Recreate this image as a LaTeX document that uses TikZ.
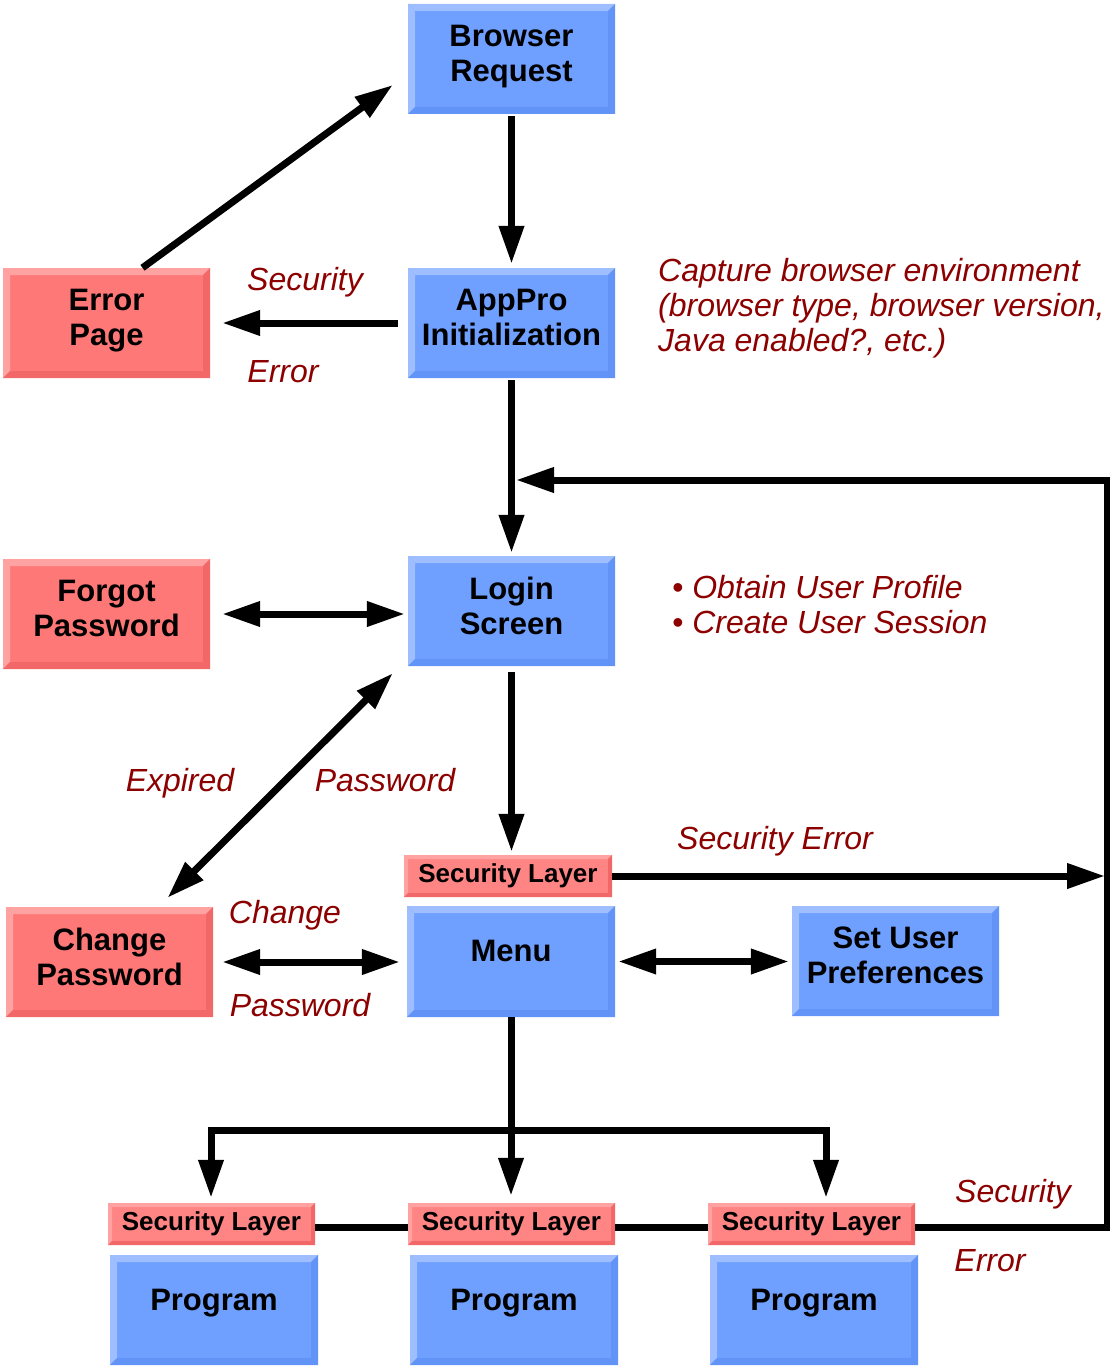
\documentclass[tikz,border=0pt]{standalone}
\usepackage{fontspec}
\setmainfont{Liberation Sans}
\usetikzlibrary{arrows.meta}

\definecolor{boxblue}{RGB}{111,160,255}
\definecolor{boxbluehi}{RGB}{158,190,255}
\definecolor{boxbluelo}{RGB}{98,148,248}
\definecolor{boxred}{RGB}{255,120,120}
\definecolor{boxredhi}{RGB}{255,162,162}
\definecolor{boxredlo}{RGB}{242,104,104}
\definecolor{slred}{RGB}{255,132,132}
\definecolor{lblred}{RGB}{140,0,0}

\newcommand\boxfont{\fontsize{31}{35}\selectfont\bfseries}
\newcommand\secfont{\fontsize{26}{30}\selectfont\bfseries}
\newcommand\lblfont{\fontsize{32}{35}\selectfont\itshape}

\tikzset{
  bevel/.style n args={3}{path picture={
      \fill[#2] (path picture bounding box.north west) -- (path picture bounding box.north east)
        -- ([xshift=-#1,yshift=-#1]path picture bounding box.north east)
        -- ([xshift=#1,yshift=-#1]path picture bounding box.north west) -- cycle;
      \fill[#2] (path picture bounding box.north west) -- (path picture bounding box.south west)
        -- ([xshift=#1,yshift=#1]path picture bounding box.south west)
        -- ([xshift=#1,yshift=-#1]path picture bounding box.north west) -- cycle;
      \fill[#3] (path picture bounding box.north east) -- (path picture bounding box.south east)
        -- ([xshift=-#1,yshift=#1]path picture bounding box.south east)
        -- ([xshift=-#1,yshift=-#1]path picture bounding box.north east) -- cycle;
      \fill[#3] (path picture bounding box.south west) -- (path picture bounding box.south east)
        -- ([xshift=-#1,yshift=#1]path picture bounding box.south east)
        -- ([xshift=#1,yshift=#1]path picture bounding box.south west) -- cycle;
    }},
  bluebox/.style={fill=boxblue, minimum width=207pt, minimum height=110pt, inner sep=0pt,
    align=center, font=\boxfont, text depth=11pt, bevel={7pt}{boxbluehi}{boxbluelo}},
  redbox/.style={bluebox, fill=boxred, bevel={7pt}{boxredhi}{boxredlo}},
  oneline/.style={text depth=21pt},
  secbox/.style={fill=slred, minimum width=207pt, minimum height=42pt, inner sep=0pt,
    font=\secfont, bevel={4pt}{boxredhi}{boxredlo}},
  lbl/.style={text=lblred, font=\lblfont, inner sep=0pt},
  line/.style={line width=7pt},
  arr/.style={line, -{Triangle[length=38pt,width=24pt]}},
  darr/.style={line, {Triangle[length=38pt,width=24pt]}-{Triangle[length=38pt,width=24pt]}}
}

\begin{document}
\begin{tikzpicture}[x=1pt, y=-1pt, line join=miter]
  \useasboundingbox (0,0) rectangle (1110,1367);

  % boxes
  \node [bluebox] (br) at (511.5,59) {Browser\\Request};
  \node [bluebox] (app) at (511.5,323) {AppPro\\Initialization};
  \node [redbox] (err) at (106.5,323) {Error\\Page};
  \node [redbox] (fgt) at (106.5,614) {Forgot\\Password};
  \node [bluebox] (login) at (511.5,611) {Login\\Screen};
  \node [redbox] (chg) at (109.5,962) {Change\\Password};
  \node [secbox, minimum width=208pt] (sl0) at (508,876) {Security Layer};
  \node [bluebox, oneline, minimum width=208pt, minimum height=111pt] (menu) at (511,961.5) {Menu};
  \node [bluebox] (pref) at (895.5,961) {Set User\\Preferences};
  \node [secbox] (sl1) at (211.5,1224) {Security Layer};
  \node [secbox] (sl2) at (511.5,1224) {Security Layer};
  \node [secbox] (sl3) at (811.5,1224) {Security Layer};
  \node [bluebox, oneline, minimum width=208pt] (pg1) at (214,1310) {Program};
  \node [bluebox, oneline, minimum width=208pt] (pg2) at (514,1310) {Program};
  \node [bluebox, oneline, minimum width=208pt] (pg3) at (814,1310) {Program};

  \coordinate (rt) at (1107,480);
  \coordinate (jn) at (516,480);
  \coordinate (b1) at (211,1130);
  \coordinate (b3) at (826,1130);

  % connectors
  \draw [arr, shorten <=2pt, shorten >=4pt] (br) -- (app);
  \draw [arr, shorten <=10pt, shorten >=12pt] (app) -- (err);
  \draw [arr] ([xshift=36pt]err.north) -- ([xshift=-15pt,yshift=-26pt]br.west);
  \draw [arr, shorten <=2pt, shorten >=3pt] (app) -- (login);
  \draw [darr, shorten <=12pt, shorten >=3pt] (fgt.east) -- (fgt.east -| login.west);
  \draw [darr] ([xshift=-15pt,yshift=-7pt]login.south west) -- ([xshift=58pt,yshift=9pt]chg.north);
  \draw [arr, shorten <=6pt, shorten >=3pt] (login.south) -- (login.south |- sl0.north);
  \draw [arr, shorten >=2pt] (sl0.east) -- (sl0.east -| rt);
  \draw [darr, shorten <=9pt, shorten >=7pt] (chg.east) -- (chg.east -| menu.west);
  \draw [darr, shorten <=3pt, shorten >=3pt] (menu.east) -- (menu.east -| pref.west);
  \draw [arr, shorten >=7pt] (menu.south) -- (menu.south |- sl2.north);
  \draw [line, line cap=rect] (b1) -- (b3);
  \draw [arr, shorten >=5pt] (b1) -- (b1 |- sl1.north);
  \draw [arr, shorten >=5pt] (b3) -- (b3 |- sl3.north);
  \draw [line] ([yshift=-3pt]sl1.east) -- ([yshift=-3pt]sl2.west);
  \draw [line] ([yshift=-3pt]sl2.east) -- ([yshift=-3pt]sl3.west);
  \draw [arr] ([yshift=-3pt]sl3.east) -| (rt) -- (jn);

  % labels
  \node [lbl] at (305,282) {Security};
  \node [lbl] at (283,372) {Error};
  \node [lbl, align=left, anchor=north west] at (658,258)
    {Capture browser environment\\(browser type, browser version,\\Java enabled?, etc.)};
  \node [lbl, align=left, anchor=north west] at (672,575)
    {\textbullet\ Obtain User Profile\\\textbullet\ Create User Session};
  \node [lbl] at (180,783) {Expired};
  \node [lbl] at (385,780) {Password};
  \node [lbl] at (775,841) {Security Error};
  \node [lbl] at (285,915) {Change};
  \node [lbl] at (300,1005) {Password};
  \node [lbl] at (1013,1194) {Security};
  \node [lbl] at (990,1261) {Error};
\end{tikzpicture}
\end{document}
